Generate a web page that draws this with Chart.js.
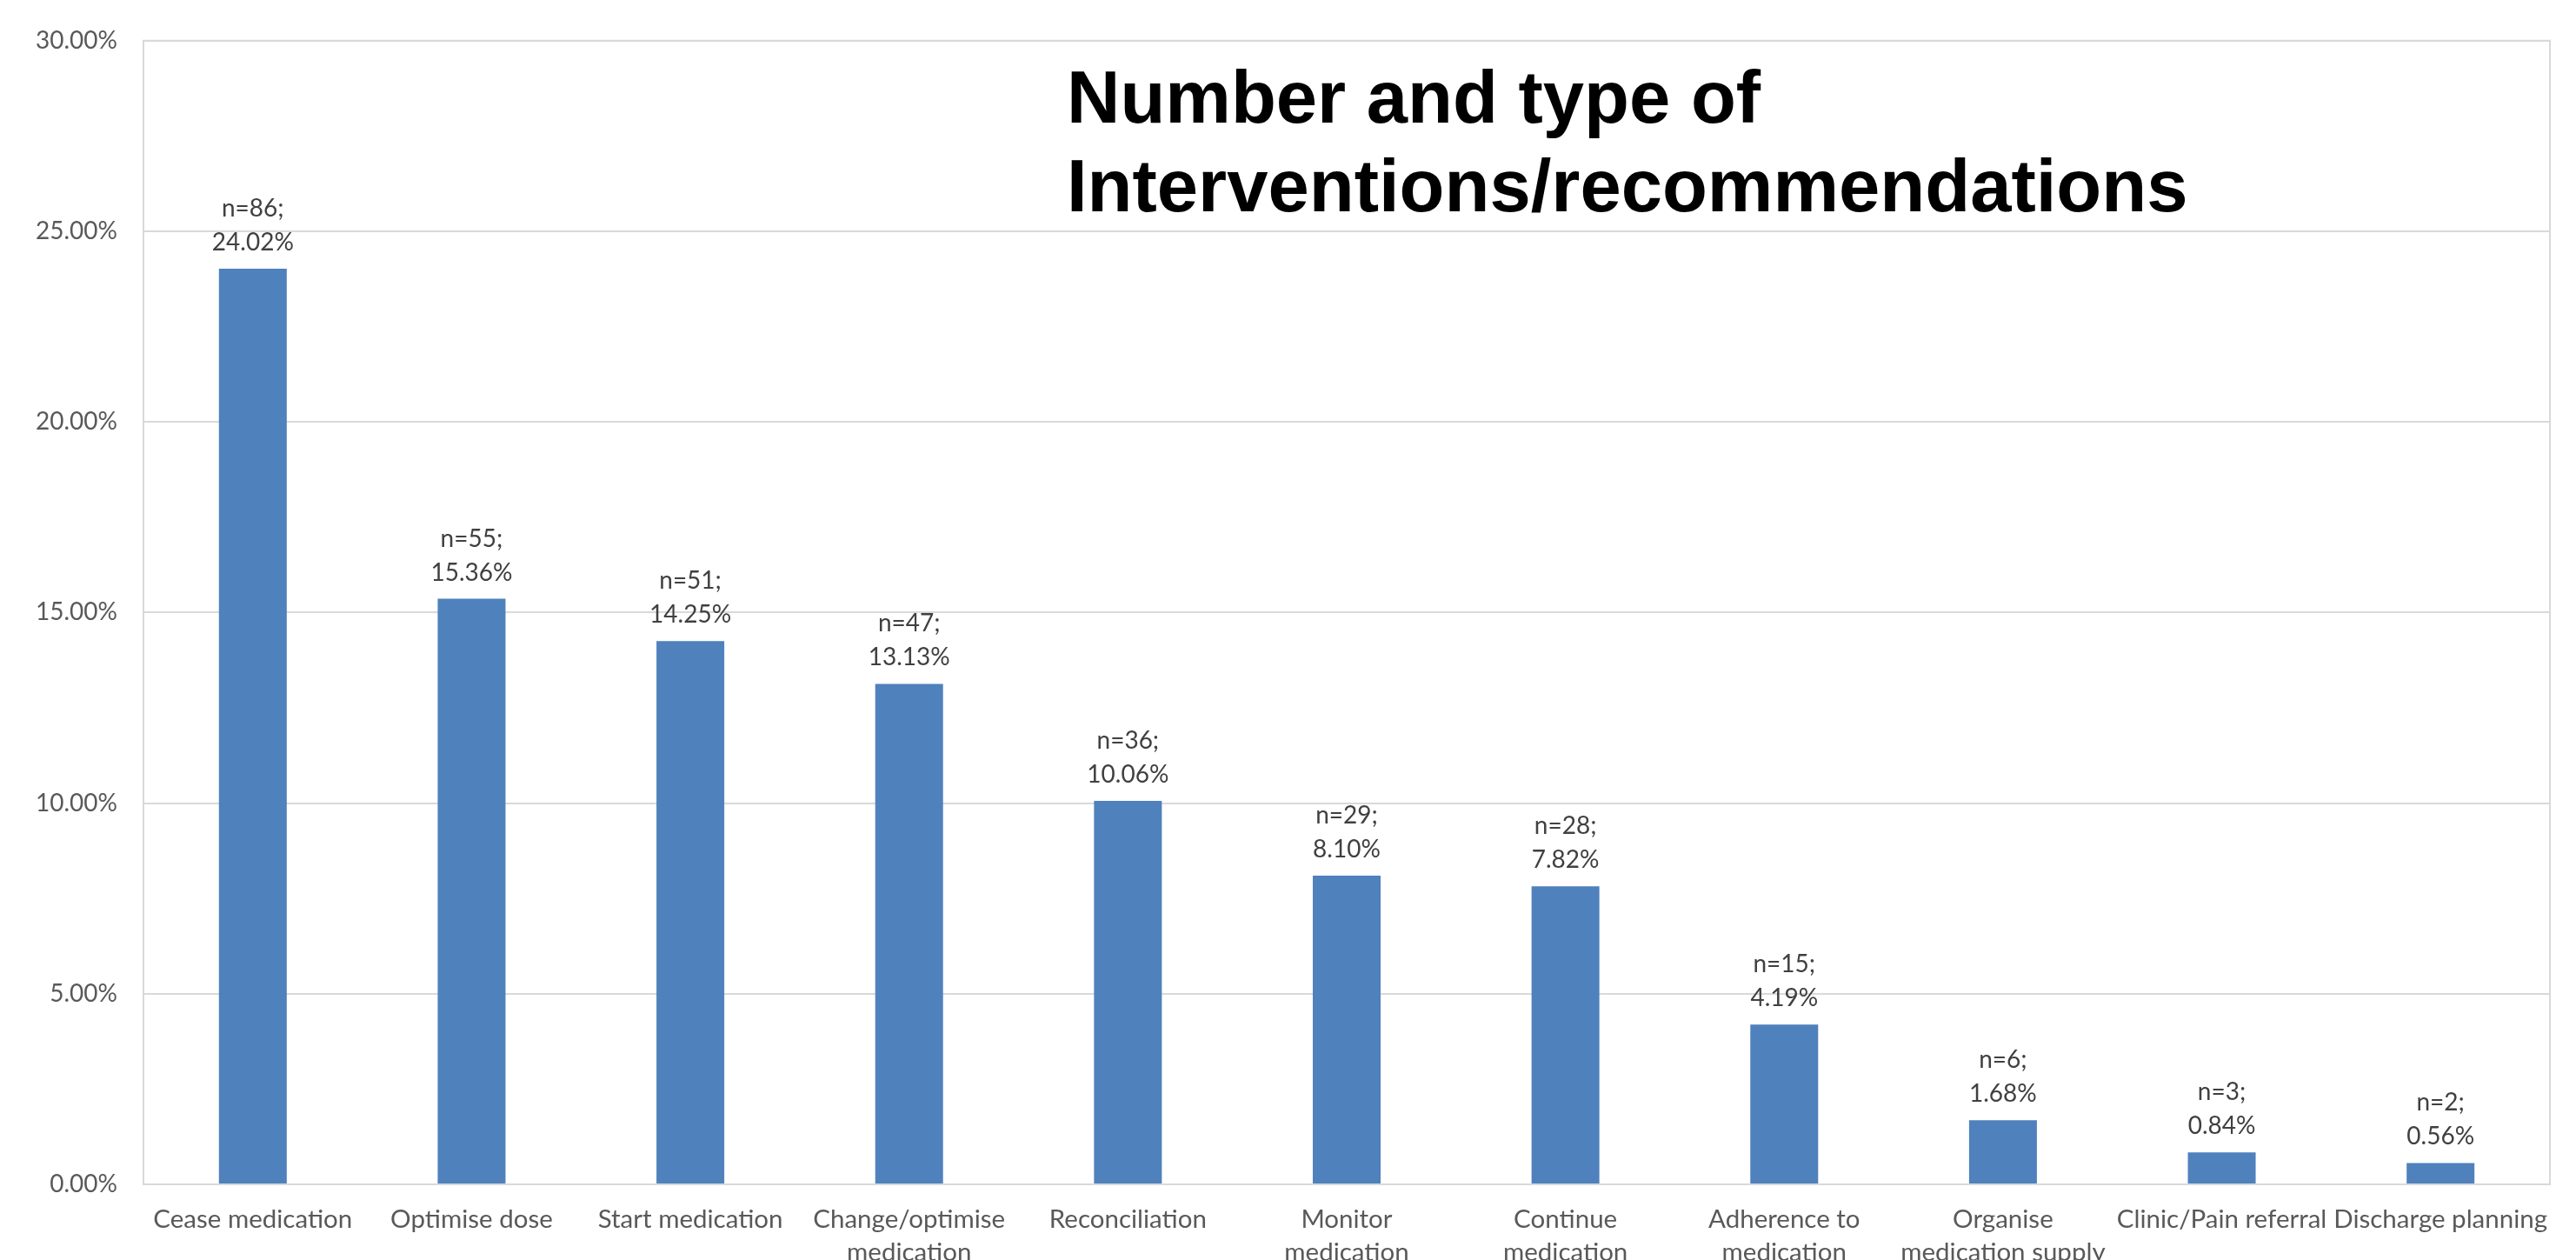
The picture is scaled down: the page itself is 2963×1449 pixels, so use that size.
<!DOCTYPE html>
<html>
<head>
<meta charset="utf-8">
<script src="https://cdn.jsdelivr.net/npm/chart.js@4.4.1/dist/chart.umd.min.js"></script>
<style>
    html, body { margin: 0; padding: 0; background: #fff; overflow: hidden; }
    #wrap { width: 2963px; height: 1485px; }
</style>
</head>
<body>
<div id="wrap"><canvas id="interventionsChart" width="2963" height="1485"></canvas></div>
<script>
// chart data
const categories = [
    'Cease medication',
    'Optimise dose',
    'Start medication',
    ['Change/optimise', 'medication'],
    'Reconciliation',
    ['Monitor', 'medication'],
    ['Continue', 'medication'],
    ['Adherence to', 'medication'],
    ['Organise', 'medication supply'],
    'Clinic/Pain referral',
    'Discharge planning'
];
const counts = [86, 55, 51, 47, 36, 29, 28, 15, 6, 3, 2];
const percents = [24.02, 15.36, 14.25, 13.13, 10.06, 8.10, 7.82, 4.19, 1.68, 0.84, 0.56];
const yTicks = [0, 5, 10, 15, 20, 25, 30];
const titleLines = ['Number and type of', 'Interventions/recommendations'];

const gridColor = '#d9d9d9';
const labelFont = 'Lato';

// n=..; xx.xx% above each bar
const barLabels = {
    id: 'barLabels',
    afterDatasetsDraw(chart) {
        const ctx = chart.ctx;
        const meta = chart.getDatasetMeta(0);
        ctx.save();
        ctx.font = '28px ' + labelFont;
        ctx.fillStyle = '#404040';
        ctx.textAlign = 'center';
        ctx.textBaseline = 'alphabetic';
        meta.data.forEach((bar, i) => {
            ctx.fillText('n=' + counts[i] + ';', bar.x, bar.y - 60);
            ctx.fillText(percents[i].toFixed(2) + '%', bar.x, bar.y - 21);
        });
        ctx.restore();
    }
};

// plot area frame + title inside the plot
const frameAndTitle = {
    id: 'frameAndTitle',
    afterDraw(chart) {
        const ctx = chart.ctx;
        const a = chart.chartArea;
        ctx.save();
        ctx.strokeStyle = gridColor;
        ctx.lineWidth = 2;
        ctx.strokeRect(a.left, a.top, a.right - a.left, a.bottom - a.top);
        ctx.fillStyle = '#000';
        ctx.font = 'bold 85px "Liberation Sans", Arial, sans-serif';
        ctx.textAlign = 'left';
        ctx.textBaseline = 'alphabetic';
        ctx.fillText(titleLines[0], a.left + 1062, a.top + 94);
        ctx.fillText(titleLines[1], a.left + 1062, a.top + 196);
        ctx.restore();
    }
};

const ctx = document.getElementById('interventionsChart').getContext('2d');
new Chart(ctx, {
    type: 'bar',
    data: {
        labels: categories,
        datasets: [{
            data: percents,
            backgroundColor: '#4f81bd',
            borderWidth: 0,
            categoryPercentage: 1,
            barPercentage: 0.31
        }]
    },
    options: {
        responsive: false,
        animation: false,
        layout: { padding: { top: 43, right: 30, left: 0, bottom: 0 } },
        plugins: {
            legend: { display: false },
            tooltip: { enabled: false }
        },
        scales: {
            x: {
                grid: { display: false, drawTicks: false },
                border: { display: false },
                ticks: {
                    color: '#595959',
                    font: { family: labelFont, size: 29.5, lineHeight: 1.27 },
                    padding: 22,
                    maxRotation: 0,
                    autoSkip: false
                },
                afterFit: (s) => { s.height = 123; }
            },
            y: {
                min: 0,
                max: 30,
                afterBuildTicks: (s) => { s.ticks = yTicks.map((v) => ({ value: v })); },
                grid: { color: gridColor, lineWidth: 2, drawTicks: false },
                border: { display: false },
                ticks: {
                    color: '#595959',
                    font: { family: labelFont, size: 28 },
                    padding: 30,
                    callback: (v) => v.toFixed(2) + '%'
                },
                afterFit: (s) => { s.width = 165; }
            }
        }
    },
    plugins: [barLabels, frameAndTitle]
});
</script>
</body>
</html>
